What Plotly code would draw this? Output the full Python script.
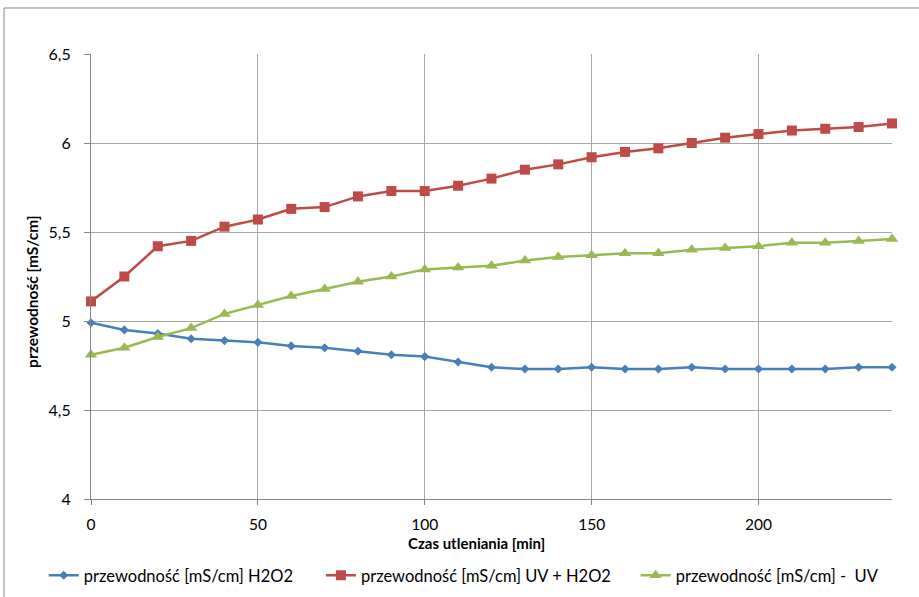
import plotly.graph_objects as go

# Oxidation time [min]
czas = [0, 10, 20, 30, 40, 50, 60, 70, 80, 90, 100, 110, 120,
        130, 140, 150, 160, 170, 180, 190, 200, 210, 220, 230, 240]

# Conductivity [mS/cm] for each treatment
h2o2 = [4.99, 4.95, 4.93, 4.90, 4.89, 4.88, 4.86, 4.85, 4.83, 4.81, 4.80, 4.77, 4.74,
        4.73, 4.73, 4.74, 4.73, 4.73, 4.74, 4.73, 4.73, 4.73, 4.73, 4.74, 4.74]
uv_h2o2 = [5.11, 5.25, 5.42, 5.45, 5.53, 5.57, 5.63, 5.64, 5.70, 5.73, 5.73, 5.76, 5.80,
           5.85, 5.88, 5.92, 5.95, 5.97, 6.00, 6.03, 6.05, 6.07, 6.08, 6.09, 6.11]
uv = [4.81, 4.85, 4.91, 4.96, 5.04, 5.09, 5.14, 5.18, 5.22, 5.25, 5.29, 5.30, 5.31,
      5.34, 5.36, 5.37, 5.38, 5.38, 5.40, 5.41, 5.42, 5.44, 5.44, 5.45, 5.46]

y_ticks = [4, 4.5, 5, 5.5, 6, 6.5]
y_tick_text = ["4", "4,5", "5", "5,5", "6", "6,5"]
x_ticks = [0, 50, 100, 150, 200]

FONT = "Lato, Open Sans, sans-serif"
GRID = "#a6a6a6"
AXIS = "#868686"

fig = go.Figure()
series = [
    ("przewodność [mS/cm] H2O2", h2o2, "#4A7EBB", "diamond", 7, "legend"),
    ("przewodność [mS/cm] UV + H2O2", uv_h2o2, "#BE4B48", "square", 10, "legend2"),
    ("przewodność [mS/cm] -  UV", uv, "#98B954", "triangle-up", 11, "legend3"),
]
for name, vals, color, sym, size, leg in series:
    fig.add_trace(go.Scatter(
        x=czas, y=vals, name=name, mode="lines+markers",
        line=dict(color=color, width=2.5),
        marker=dict(symbol=sym, size=size, color=color),
        cliponaxis=False, legend=leg,
    ))

# one legend box per series, laid out in a row under the axis title
leg_common = dict(orientation="h", yanchor="middle", y=-0.172, xanchor="left",
                  font=dict(size=16.5), itemwidth=30, bgcolor="rgba(0,0,0,0)")

fig.update_layout(
    width=919, height=597,
    margin=dict(l=91, r=27, t=54, b=98, autoexpand=False),
    paper_bgcolor="white", plot_bgcolor="white",
    font=dict(family=FONT, size=14, color="black"),
    showlegend=True,
    legend=dict(x=-0.059, **leg_common),
    legend2=dict(x=0.287, **leg_common),
    legend3=dict(x=0.680, **leg_common),
    xaxis=dict(
        range=[0, 240], tickvals=x_ticks, showgrid=True, gridcolor=GRID, gridwidth=1,
        showline=True, linecolor=AXIS, linewidth=1, ticks="outside", ticklen=5,
        tickcolor=AXIS, tickfont=dict(size=15.5), zeroline=False, automargin=False,
        ticklabelstandoff=6,
    ),
    yaxis=dict(
        range=[4, 6.5], tickvals=y_ticks, ticktext=y_tick_text, showgrid=True,
        gridcolor=GRID, gridwidth=1, showline=True, linecolor=AXIS, linewidth=1,
        ticks="outside", ticklen=6, tickcolor=AXIS, tickfont=dict(size=16),
        zeroline=False, automargin=False, ticklabelstandoff=10,
    ),
    annotations=[
        dict(text="<b>Czas utleniania [min]</b>", xref="paper", yref="paper",
             x=0.481, y=-0.098, xanchor="center", yanchor="middle", showarrow=False,
             font=dict(size=15)),
        dict(text="<b>przewodność [mS/cm]</b>", xref="paper", yref="paper",
             x=-0.074, y=0.467, xanchor="center", yanchor="middle", showarrow=False,
             textangle=-90, font=dict(size=15.5)),
    ],
    shapes=[dict(type="rect", xref="paper", yref="paper",
                 x0=-0.1086, x1=1.2, y0=-0.4, y1=1.1034,
                 line=dict(color=AXIS, width=1), layer="below")],
)

fig.write_html("out.html")
